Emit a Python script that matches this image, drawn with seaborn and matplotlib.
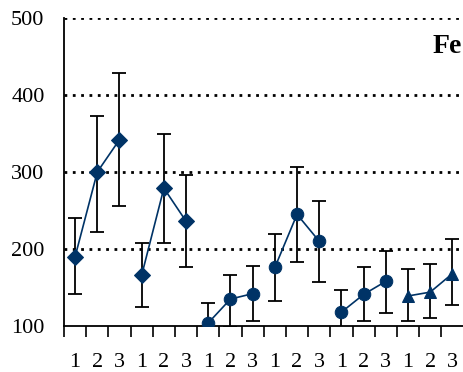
import numpy as np
import pandas as pd
import matplotlib
matplotlib.use("Agg")
import matplotlib.pyplot as plt
import seaborn as sns

tick_labels = ["1", "2", "3"] * 6
groups = ["G1", "G2", "G3", "G4", "G5", "G6"]
markers = ["D", "D", "o", "o", "o", "^"]
means = [
    [190, 300, 342],
    [166, 279, 236],
    [104, 135, 142],
    [176, 245, 210],
    [118, 141, 158],
    [139, 144, 168],
]
upper = [
    [240, 373, 428],
    [208, 349, 296],
    [130, 166, 178],
    [220, 306, 262],
    [147, 176, 197],
    [174, 181, 213],
]
lower = [
    [142, 222, 256],
    [125, 208, 176],
    [80, 99, 107],
    [132, 183, 157],
    [88, 106, 117],
    [106, 110, 127],
]

sns.set_style("white")
plt.rcParams["font.family"] = ["Liberation Serif", "DejaVu Serif"]
plt.rcParams["text.color"] = "black"
plt.rcParams["xtick.color"] = "black"
plt.rcParams["ytick.color"] = "black"

fig = plt.figure(figsize=(4.63, 3.72), dpi=100)
ax = fig.add_axes([64 / 463, 46 / 372, 399.5 / 463, 308 / 372])

navy = "#003366"
pos = 0
for g, mk, m, up, lo in zip(groups, markers, means, upper, lower):
    x = np.arange(pos, pos + 3)
    df = pd.DataFrame({"x": x, "y": m})
    ms = 8 if mk == "D" else 9
    sns.lineplot(data=df, x="x", y="y", ax=ax, color=navy, lw=1.2,
                 marker=mk, markersize=ms, markeredgecolor=navy, zorder=4)
    m_a = np.array(m)
    ax.errorbar(x, m_a, yerr=[m_a - np.array(lo), np.array(up) - m_a],
                fmt="none", ecolor="black", elinewidth=1.3, capsize=4.7,
                capthick=1.3, zorder=3)
    pos += 3

ax.set_xlim(-0.5, 17.5)
ax.set_ylim(100, 500)
ax.set_yticks([100, 200, 300, 400, 500])
for yv in [200, 300, 400, 500]:
    ax.axhline(yv, color="black", lw=2, linestyle=(0, (1, 2)), zorder=1)

ax.set_xticks(np.arange(18))
ax.set_xticklabels(tick_labels)
ax.set_xticks(np.arange(-0.5, 18, 1), minor=True)
ax.tick_params(axis="x", which="major", length=0, pad=19.5, labelsize=16,
               labelcolor="black")
ax.tick_params(axis="x", which="minor", length=8, width=1.2, direction="out",
               color="black", bottom=True)
ax.tick_params(axis="y", length=0, pad=14, labelsize=16, labelcolor="black")
ax.set_xlabel("")
ax.set_ylabel("")

for s in ["top", "right"]:
    ax.spines[s].set_visible(False)
for s in ["left", "bottom"]:
    ax.spines[s].set_color("black")
    ax.spines[s].set_linewidth(1.3)

ax.text(0.995, 0.886, "Fe", transform=ax.transAxes, ha="right", va="baseline",
        fontsize=20, fontweight="bold", color="black")

fig.savefig("out.png", dpi=100)
